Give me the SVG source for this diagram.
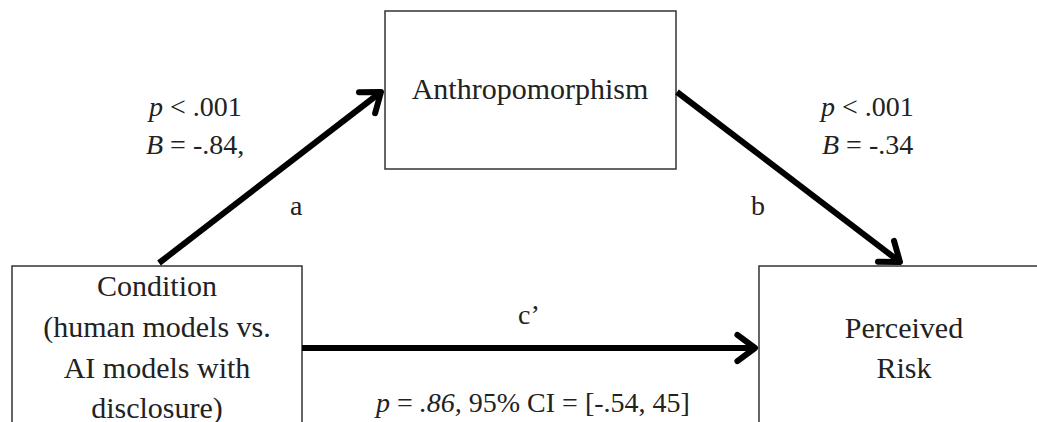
<svg xmlns="http://www.w3.org/2000/svg" width="1037" height="422" viewBox="0 0 1037 422">
  <style>
    .box { fill: #ffffff; stroke: #333333; stroke-width: 1.5; }
    .t { font-family: "Liberation Serif", "Times New Roman", serif; fill: #222222; }
    .node { font-size: 30px; text-anchor: middle; }
    .lbl { font-size: 28px; }
    .it { font-style: italic; }
    .conn { stroke: #000000; stroke-width: 6; fill: none; marker-end: url(#chev); }
  </style>
  <defs>
    <marker id="chev" markerUnits="userSpaceOnUse" viewBox="-30 -20 40 40" markerWidth="40" markerHeight="40" refX="0" refY="0" orient="auto">
      <path d="M -17.6 -13.2 L 0 0 L -17.6 13.2" fill="none" stroke="#000000" stroke-width="6" stroke-linejoin="round" stroke-linecap="round"/>
    </marker>
  </defs>
  <rect width="1037" height="422" fill="#ffffff"/>

  <g id="node-anthropomorphism">
    <rect class="box" x="385" y="11" width="291" height="158"/>
    <text class="t node" x="530" y="99">Anthropomorphism</text>
  </g>

  <g id="node-condition">
    <rect class="box" x="12" y="266" width="290" height="170"/>
    <text class="t node" x="157" y="296">Condition</text>
    <text class="t node" x="157" y="337">(human models vs.</text>
    <text class="t node" x="157" y="378">AI models with</text>
    <text class="t node" x="157" y="418">disclosure)</text>
  </g>

  <g id="node-risk">
    <rect class="box" x="759" y="266" width="290" height="170"/>
    <text class="t node" x="904" y="338">Perceived</text>
    <text class="t node" x="904" y="378">Risk</text>
  </g>

  <g id="connectors">
    <line class="conn" x1="159" y1="263" x2="381" y2="92"/>
    <line class="conn" x1="677" y1="92" x2="900" y2="262"/>
    <line class="conn" x1="302" y1="348" x2="755" y2="348"/>
  </g>

  <g id="labels">
    <text class="t lbl" x="149" y="116"><tspan class="it">p</tspan> &lt; .001</text>
    <text class="t lbl" x="146" y="154"><tspan class="it">B</tspan> = -.84,</text>
    <text class="t lbl" x="290" y="215">a</text>
    <text class="t lbl" x="821" y="116"><tspan class="it">p</tspan> &lt; .001</text>
    <text class="t lbl" x="822" y="154"><tspan class="it">B</tspan> = -.34</text>
    <text class="t lbl" x="751" y="215">b</text>
    <text class="t lbl" x="518" y="324">c’</text>
    <text class="t lbl" x="376" y="412"><tspan class="it">p</tspan> = <tspan class="it">.86,</tspan> 95% CI = [-.54, 45]</text>
  </g>
</svg>
